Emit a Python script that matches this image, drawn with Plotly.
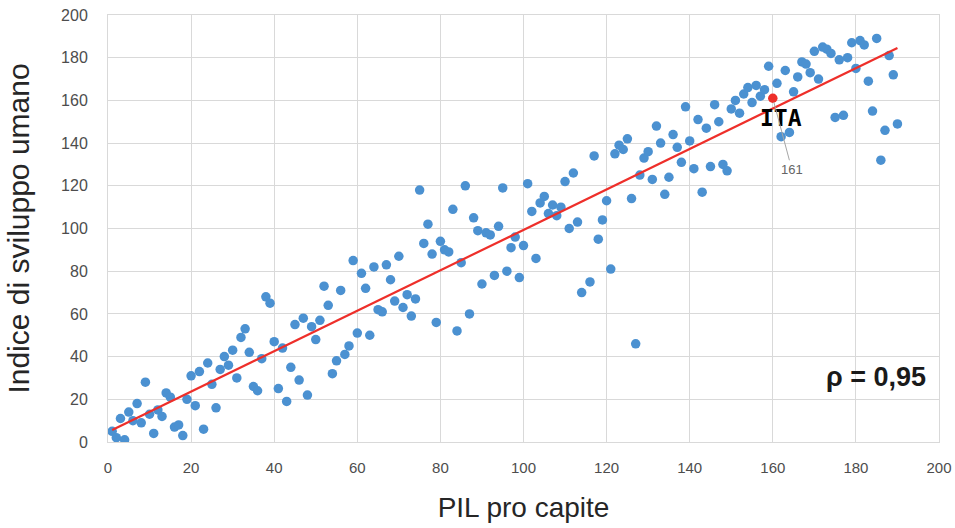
import numpy as np
import plotly.graph_objects as go

# PIL pro capite rank (x) and Indice di sviluppo umano rank (y)
pil = [1, 2, 3, 4, 5, 6, 7, 8, 9, 10, 11, 12, 13, 14, 15, 16, 17, 18, 19, 20,
       21, 22, 23, 24, 25, 26, 27, 28, 29, 30, 31, 32, 33, 34, 35, 36, 37, 38, 39, 40,
       41, 42, 43, 44, 45, 46, 47, 48, 49, 50, 51, 52, 53, 54, 55, 56, 57, 58, 59, 60,
       61, 62, 63, 64, 65, 66, 67, 68, 69, 70, 71, 72, 73, 74, 75, 76, 77, 78, 79, 80,
       81, 82, 83, 84, 85, 86, 87, 88, 89, 90, 91, 92, 93, 94, 95, 96, 97, 98, 99, 100,
       101, 102, 103, 104, 105, 106, 107, 108, 109, 110, 111, 112, 113, 114, 116, 117, 118, 119, 120,
       121, 122, 123, 124, 125, 126, 127, 128, 129, 130, 131, 132, 133, 134, 135, 136, 137, 138, 139, 140,
       141, 142, 143, 144, 145, 146, 147, 148, 149, 150, 151, 152, 153, 154, 155, 156, 157, 158, 159,
       161, 162, 163, 164, 165, 166, 167, 168, 169, 170, 171, 172, 173, 174, 175, 176, 177, 178, 179, 180,
       181, 182, 183, 184, 185, 186, 187, 188, 189, 190]
isu = [5, 2, 11, 1, 14, 10, 18, 9, 28, 13, 4, 15, 12, 23, 21, 7, 8, 3, 20, 31,
       17, 33, 6, 37, 27, 16, 34, 40, 36, 43, 30, 49, 53, 42, 26, 24, 39, 68, 65, 47,
       25, 44, 19, 35, 55, 29, 58, 22, 54, 48, 57, 73, 64, 32, 38, 71, 41, 45, 85, 51,
       79, 72, 50, 82, 62, 61, 83, 76, 66, 87, 63, 69, 59, 67, 118, 93, 102, 88, 56, 94,
       90, 89, 109, 52, 84, 120, 60, 105, 99, 74, 98, 97, 78, 101, 119, 80, 91, 96, 77, 92,
       121, 108, 86, 112, 115, 107, 111, 106, 110, 122, 100, 126, 103, 70, 75, 134, 95, 104, 113,
       81, 135, 139, 137, 142, 114, 46, 125, 133, 136, 123, 148, 140, 116, 124, 144, 138, 131, 157, 141,
       128, 151, 117, 147, 129, 158, 150, 130, 127, 156, 160, 154, 163, 166, 159, 167, 162, 165, 176,
       168, 143, 174, 145, 164, 171, 178, 177, 173, 183, 170, 185, 184, 182, 152, 179, 153, 180, 187, 175,
       188, 186, 169, 155, 189, 132, 146, 181, 172, 149]

ita_pil = [160]
ita_isu = [161]
ita_label = "ITA"
rho_text = "ρ = 0,95"

x_title = "PIL pro capite"
y_title = "Indice di sviluppo umano"

# linear trend computed from data
all_x = np.array(pil + ita_pil, dtype=float)
all_y = np.array(isu + ita_isu, dtype=float)
slope, intercept = np.polyfit(all_x, all_y, 1)
trend_x = [all_x.min(), all_x.max()]
trend_y = [slope * v + intercept for v in trend_x]

fig = go.Figure()
fig.add_trace(go.Scatter(x=pil, y=isu, mode="markers",
                         marker=dict(color="#4b91d1", size=9.5, line=dict(width=0)),
                         showlegend=False, hoverinfo="x+y"))
fig.add_trace(go.Scatter(x=trend_x, y=trend_y, mode="lines",
                         line=dict(color="#ee2f2a", width=2.2),
                         showlegend=False, hoverinfo="skip"))
fig.add_trace(go.Scatter(x=ita_pil, y=ita_isu, mode="markers",
                         marker=dict(color="#ee2f2a", size=9.5, line=dict(width=0)),
                         showlegend=False))

fig.add_annotation(x=ita_pil[0], y=ita_isu[0], text="<b>%s</b>" % ita_label,
                   showarrow=False, xshift=8, yshift=-20,
                   font=dict(family="DejaVu Sans Mono", size=23, color="#000000"))
fig.add_annotation(x=ita_pil[0], y=ita_isu[0], text=str(ita_isu[0]),
                   showarrow=True, arrowhead=0, arrowwidth=1, arrowcolor="#a6a6a6",
                   ax=19, ay=71, standoff=4,
                   font=dict(family="Liberation Sans", size=13, color="#666666"))
fig.add_annotation(x=0.987, y=0.152, xref="paper", yref="paper",
                   xanchor="right", yanchor="middle", showarrow=False,
                   text="<b>%s</b>" % rho_text,
                   font=dict(family="Liberation Sans", size=27, color="#1a1a1a"))

x_tick_font = dict(family="Liberation Sans", size=15, color="#4d4d4d")
y_tick_font = dict(family="Liberation Sans", size=16, color="#4d4d4d")

fig.update_layout(
    width=955, height=528,
    margin=dict(l=108, r=16, t=15, b=86),
    paper_bgcolor="white", plot_bgcolor="white",
    xaxis=dict(range=[0, 200], tick0=0, dtick=20, showgrid=True, gridcolor="#d9d9d9",
               gridwidth=1, zeroline=False, showline=True, linecolor="#d9d9d9", mirror=True,
               ticks="", tickfont=x_tick_font, ticklabelstandoff=12, automargin=False,
               title=dict(text=x_title, standoff=22,
                          font=dict(family="Liberation Sans", size=28, color="#262626"))),
    yaxis=dict(range=[0, 200], tick0=0, dtick=20, showgrid=True, gridcolor="#d9d9d9",
               gridwidth=1, zeroline=False, showline=True, linecolor="#d9d9d9", mirror=True,
               ticks="", tickfont=y_tick_font, ticklabelstandoff=16, automargin=False,
               title=dict(text=y_title, standoff=22,
                          font=dict(family="Liberation Sans", size=30, color="#262626"))),
)

fig.write_html("out.html")
